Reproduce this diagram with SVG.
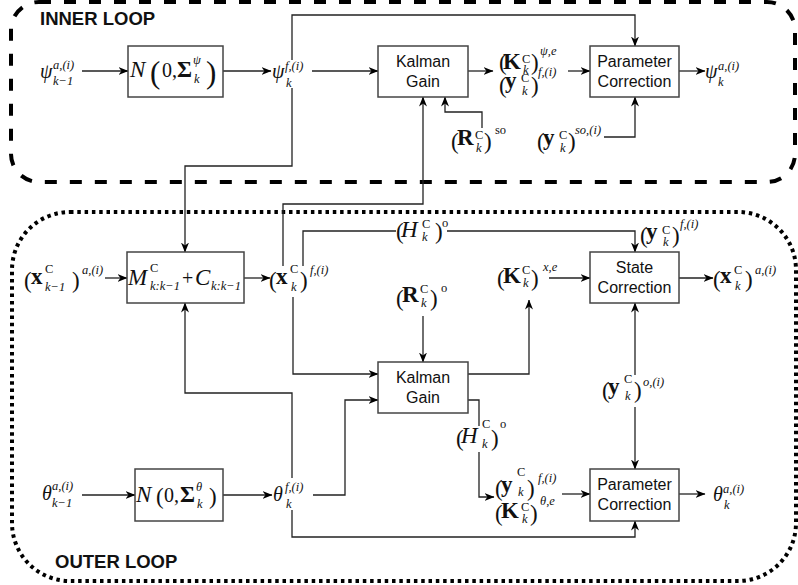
<svg xmlns="http://www.w3.org/2000/svg" width="798" height="585" viewBox="0 0 798 585">
<defs>
<marker id="ah" viewBox="0 0 10 8" refX="9.5" refY="4" markerWidth="10" markerHeight="8" markerUnits="userSpaceOnUse" orient="auto"><path d="M0,0 L10,4 L0,8 L3,4 z" fill="#000"/></marker>
<style>
.box{fill:#fff;stroke:#444;stroke-width:1.5}
.bl{font-family:"Liberation Sans",Arial,sans-serif;font-size:16px;fill:#111;text-anchor:middle}
.c{fill:none;stroke:#222;stroke-width:1.3}
.a{marker-end:url(#ah)}
.ttl{font-family:"Liberation Sans",Arial,sans-serif;font-size:18.5px;font-weight:bold;fill:#111}
.m{font-family:"Liberation Serif","DejaVu Serif",serif;font-size:20px;font-style:italic;fill:#111}
.b{font-style:normal;font-weight:bold;font-size:23px}
.L{font-size:23px}
.r{font-style:normal}
.s{font-size:12.5px}
.p{font-style:normal;font-size:23px}
.P{font-style:normal;font-size:31px}
</style>
</defs>
<rect x="11" y="2" width="784" height="180" rx="28" fill="none" stroke="#000" stroke-width="4" stroke-dasharray="12 13"/>
<rect x="12" y="212" width="784" height="369" rx="58" fill="none" stroke="#000" stroke-width="4" stroke-dasharray="3.5 3.8"/>
<text class="ttl" x="40" y="25">INNER LOOP</text>
<text class="ttl" x="55" y="568">OUTER LOOP</text>

<g id="connectors">
<path class="c a" d="M82,71 H128"/>
<path class="c a" d="M223,71 H271"/>
<path class="c a" d="M312,71 H378"/>
<path class="c a" d="M292,60 V15 H635 V46"/>
<path class="c a" d="M292,88 V166 H185 V252"/>
<path class="c a" d="M468,71 H493"/>
<path class="c a" d="M568,71 H590"/>
<path class="c a" d="M482,128 V112 H445 V97"/>
<path class="c a" d="M604,137 H635 V97"/>
<path class="c a" d="M679,71 H705"/>
<path class="c a" d="M283,266 V204 H423 V97"/>
<path class="c a" d="M105,278 H127"/>
<path class="c a" d="M244,278 H270"/>
<path class="c" d="M303,266 V231 H396"/>
<path class="c a" d="M447,231 H635 V252"/>
<path class="c a" d="M293,297 V374 H378"/>
<path class="c a" d="M423,316 V362"/>
<path class="c a" d="M468,374 H529 V300"/>
<path class="c a" d="M549,278 H590"/>
<path class="c a" d="M679,278 H713"/>
<path class="c a" d="M635,375 V303"/>
<path class="c a" d="M635,407 V469"/>
<path class="c" d="M468,400 H479 V426"/>
<path class="c a" d="M479,452 V497 H494"/>
<path class="c a" d="M562,494 H590"/>
<path class="c a" d="M82,495 H135"/>
<path class="c a" d="M223,495 H272"/>
<path class="c a" d="M313,495 H345 V400 H378"/>
<path class="c a" d="M292,510 V537 H635 V521"/>
<path class="c a" d="M292,478 V393 H185 V303"/>
<path class="c a" d="M679,494 H705"/>
</g>

<g id="noise-psi"><rect class="box" x="128" y="46" width="95" height="51"/>
<text class="m"><tspan class="L" x="130" y="77">N</tspan><tspan class="P" x="150" y="83">(</tspan><tspan class="r" x="162" y="77">0,</tspan><tspan class="b" x="177" y="77">Σ</tspan><tspan class="s" x="193" y="64">ψ</tspan><tspan class="s" x="194" y="83">k</tspan><tspan class="P" x="206" y="83">)</tspan></text></g>
<g id="kalman-inner"><rect class="box" x="378" y="46" width="90" height="51"/><text class="bl" x="423" y="67">Kalman</text><text class="bl" x="423" y="87">Gain</text></g>
<g id="param-inner"><rect class="box" x="590" y="46" width="89" height="51"/><text class="bl" x="634.5" y="67">Parameter</text><text class="bl" x="634.5" y="87">Correction</text></g>
<g id="model"><rect class="box" x="127" y="252" width="117" height="51"/>
<text class="m"><tspan class="L" x="128" y="285">M</tspan><tspan class="s r" x="150" y="272">C</tspan><tspan class="s" x="150" y="290">k:k−1</tspan><tspan class="r" x="182" y="285">+</tspan><tspan class="L" x="195" y="285">C</tspan><tspan class="s" x="211" y="290">k:k−1</tspan></text></g>
<g id="state-corr"><rect class="box" x="590" y="252" width="89" height="51"/><text class="bl" x="634.5" y="273">State</text><text class="bl" x="634.5" y="293">Correction</text></g>
<g id="kalman-outer"><rect class="box" x="378" y="362" width="90" height="51"/><text class="bl" x="423" y="383">Kalman</text><text class="bl" x="423" y="403">Gain</text></g>
<g id="noise-theta"><rect class="box" x="135" y="469" width="88" height="52"/>
<text class="m"><tspan class="L" x="136" y="502">N</tspan><tspan class="p" x="156" y="504">(</tspan><tspan class="r" x="164" y="502">0,</tspan><tspan class="b" x="180" y="502">Σ</tspan><tspan class="s" x="196" y="491">θ</tspan><tspan class="s" x="197" y="508">k</tspan><tspan class="p" x="209" y="504">)</tspan></text></g>
<g id="param-outer"><rect class="box" x="590" y="469" width="89" height="52"/><text class="bl" x="634.5" y="490">Parameter</text><text class="bl" x="634.5" y="510">Correction</text></g>

<g id="labels">
<text class="m"><tspan x="40" y="78">ψ</tspan><tspan class="s" x="53" y="69">a,(i)</tspan><tspan class="s" x="53" y="85">k−1</tspan></text>
<text class="m"><tspan x="272" y="78">ψ</tspan><tspan class="s" x="285" y="70">f,(i)</tspan><tspan class="s" x="286" y="87">k</tspan></text>
<text class="m"><tspan class="p" x="499" y="70">(</tspan><tspan class="b" x="503" y="69">K</tspan><tspan class="s r" x="522" y="63">C</tspan><tspan class="s" x="523" y="74">k</tspan><tspan class="p" x="531" y="70">)</tspan><tspan class="s" x="540" y="55">ψ,e</tspan>
<tspan class="p" x="499" y="93">(</tspan><tspan class="b" x="505" y="88">y</tspan><tspan class="s r" x="521" y="82">C</tspan><tspan class="s" x="522" y="95">k</tspan><tspan class="p" x="531" y="93">)</tspan><tspan class="s" x="538" y="76">f,(i)</tspan></text>
<text class="m"><tspan class="p" x="451" y="149">(</tspan><tspan class="b" x="457" y="145">R</tspan><tspan class="s r" x="475" y="139">C</tspan><tspan class="s" x="476" y="152">k</tspan><tspan class="p" x="484" y="149">)</tspan><tspan class="s r" x="495" y="134">so</tspan></text>
<text class="m"><tspan class="p" x="537" y="149">(</tspan><tspan class="b" x="543" y="145">y</tspan><tspan class="s r" x="559" y="139">C</tspan><tspan class="s" x="560" y="152">k</tspan><tspan class="p" x="568" y="149">)</tspan><tspan class="s" x="575" y="134">so,(i)</tspan></text>
<text class="m"><tspan x="705" y="78">ψ</tspan><tspan class="s" x="718" y="70">a,(i)</tspan><tspan class="s" x="718" y="86">k</tspan></text>

<text class="m"><tspan class="p" x="24" y="288">(</tspan><tspan class="b" x="31" y="284">x</tspan><tspan class="s r" x="45" y="273">C</tspan><tspan class="s" x="45" y="291">k−1</tspan><tspan class="p" x="72" y="288">)</tspan><tspan class="s" x="82" y="274">a,(i)</tspan></text>
<text class="m"><tspan class="p" x="269" y="288">(</tspan><tspan class="b" x="276" y="284">x</tspan><tspan class="s r" x="290" y="273">C</tspan><tspan class="s" x="291" y="291">k</tspan><tspan class="p" x="300" y="288">)</tspan><tspan class="s" x="310" y="274">f,(i)</tspan></text>
<text class="m"><tspan class="p" x="396" y="239">(</tspan><tspan class="L" x="401" y="237">H</tspan><tspan class="s r" x="422" y="228">C</tspan><tspan class="s" x="422" y="241">k</tspan><tspan class="p" x="435" y="239">)</tspan><tspan class="s r" x="442" y="227">o</tspan></text>
<text class="m"><tspan class="p" x="640" y="243">(</tspan><tspan class="b" x="646" y="239">y</tspan><tspan class="s r" x="662" y="234">C</tspan><tspan class="s" x="663" y="246">k</tspan><tspan class="p" x="672" y="243">)</tspan><tspan class="s" x="680" y="228">f,(i)</tspan></text>
<text class="m"><tspan class="p" x="497" y="286">(</tspan><tspan class="b" x="503" y="283">K</tspan><tspan class="s r" x="522" y="274">C</tspan><tspan class="s" x="523" y="287">k</tspan><tspan class="p" x="531" y="286">)</tspan><tspan class="s" x="543" y="271">x,e</tspan></text>
<text class="m"><tspan class="p" x="396" y="306">(</tspan><tspan class="b" x="402" y="302">R</tspan><tspan class="s r" x="420" y="293">C</tspan><tspan class="s" x="421" y="307">k</tspan><tspan class="p" x="430" y="306">)</tspan><tspan class="s r" x="441" y="292">o</tspan></text>
<text class="m"><tspan class="p" x="713" y="287">(</tspan><tspan class="b" x="720" y="283">x</tspan><tspan class="s r" x="734" y="274">C</tspan><tspan class="s" x="735" y="290">k</tspan><tspan class="p" x="745" y="287">)</tspan><tspan class="s" x="755" y="274">a,(i)</tspan></text>
<text class="m"><tspan class="p" x="602" y="398">(</tspan><tspan class="b" x="608" y="394">y</tspan><tspan class="s r" x="624" y="383">C</tspan><tspan class="s" x="625" y="400">k</tspan><tspan class="p" x="634" y="398">)</tspan><tspan class="s" x="643" y="386">o,(i)</tspan></text>
<text class="m"><tspan class="p" x="456" y="446">(</tspan><tspan class="L" x="461" y="443">H</tspan><tspan class="s r" x="482" y="428">C</tspan><tspan class="s" x="482" y="448">k</tspan><tspan class="p" x="491" y="446">)</tspan><tspan class="s r" x="500" y="428">o</tspan></text>
<text class="m"><tspan class="p" x="495" y="496">(</tspan><tspan class="b" x="501" y="492">y</tspan><tspan class="s r" x="517" y="476">C</tspan><tspan class="s" x="518" y="496">k</tspan><tspan class="p" x="527" y="496">)</tspan><tspan class="s" x="538" y="482">f,(i)</tspan>
<tspan class="p" x="495" y="521">(</tspan><tspan class="b" x="501" y="518">K</tspan><tspan class="s r" x="521" y="511">C</tspan><tspan class="s" x="522" y="523">k</tspan><tspan class="p" x="530" y="521">)</tspan><tspan class="s" x="540" y="505">θ,e</tspan></text>
<text class="m"><tspan x="42" y="500">θ</tspan><tspan class="s" x="52" y="490">a,(i)</tspan><tspan class="s" x="52" y="507">k−1</tspan></text>
<text class="m"><tspan x="273" y="501">θ</tspan><tspan class="s" x="285" y="491">f,(i)</tspan><tspan class="s" x="286" y="508">k</tspan></text>
<text class="m"><tspan x="713" y="501">θ</tspan><tspan class="s" x="723" y="493">a,(i)</tspan><tspan class="s" x="724" y="509">k</tspan></text>
</g>
</svg>
